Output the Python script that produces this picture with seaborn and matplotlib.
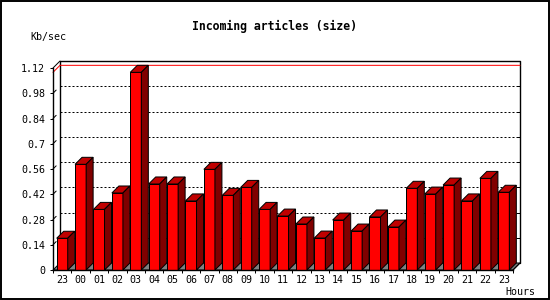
import numpy as np
import pandas as pd
import matplotlib
matplotlib.use("Agg")
import matplotlib.pyplot as plt
from matplotlib.patches import Polygon, Rectangle
import seaborn as sns

# ---- data ----
hours = ["23", "00", "01", "02", "03", "04", "05", "06", "07", "08", "09", "10",
         "11", "12", "13", "14", "15", "16", "17", "18", "19", "20", "21", "22", "23"]
kbps = [0.176, 0.586, 0.336, 0.427, 1.096, 0.477, 0.477, 0.383, 0.558, 0.414,
        0.458, 0.336, 0.299, 0.255, 0.177, 0.277, 0.216, 0.294, 0.238, 0.453,
        0.421, 0.471, 0.383, 0.508, 0.431]
yticks = [0, 0.14, 0.28, 0.42, 0.56, 0.7, 0.84, 0.98, 1.12]
ytick_labels = ["0", "0.14", "0.28", "0.42", "0.56", "0.7", "0.84", "0.98", "1.12"]
title = "Incoming articles (size)"
ylabel = "Kb/sec"
xlabel = "Hours"

sns.set_style("white")
plt.rcParams["font.family"] = ["DejaVu Sans Mono", "DejaVu Sans"]
plt.rcParams["lines.scale_dashes"] = False

W, H = 550, 300
fig = plt.figure(figsize=(W / 100, H / 100), dpi=100)
fig.patch.set_facecolor("white")

# axes geometry (pixels)
L, R, B, T = 53, 513, 270, 68
ax = fig.add_axes([L / W, (H - B) / H, (R - L) / W, (B - T) / H])
ax.set_facecolor("none")

n = len(kbps)
ymax = yticks[-1]
px_x = (R - L) / n
px_y = (B - T) / ymax
dx = 7 / px_x
dy = 7 / px_y
LW = 0.72

df = pd.DataFrame({"slot": np.arange(n), "kbps": kbps})
sns.barplot(data=df, x="slot", y="kbps", color="#FF0000", saturation=1,
            width=0.6, edgecolor="black", linewidth=LW, ax=ax)

ax.set_xlim(-0.5, n - 0.5)
ax.set_ylim(0, ymax)

x0w, x1w = -0.5 + dx, n - 0.5 + dx  # back wall x range

# floor
floor = Polygon([(-0.5, 0), (n - 0.5, 0), (n - 0.5 + dx, dy), (-0.5 + dx, dy)],
                closed=True, facecolor="#808080", edgecolor="black", lw=LW,
                zorder=2, clip_on=False)
ax.add_patch(floor)

# back wall gridlines
for v in yticks[1:-1]:
    ax.plot([x0w, x1w], [v + dy, v + dy], color="black", lw=LW,
            ls=(0, (1.44, 1.44)), zorder=1, clip_on=False)
    ax.plot([x1w - 3 / px_x, x1w], [v + dy, v + dy], color="black", lw=LW,
            zorder=1, clip_on=False)
    ax.plot([-0.5, -0.5 + dx * 0.45], [v, v + dy * 0.45], color="black", lw=LW,
            zorder=1, clip_on=False)

# max line (red)
mx = max(kbps)
ax.plot([-0.5, x0w, x1w], [mx, mx + dy, mx + dy], color="#FF0000", lw=LW,
        zorder=1.5, clip_on=False)

# back wall border
ax.plot([x0w, x0w, x1w, x1w], [dy, ymax + dy, ymax + dy, dy], color="black",
        lw=LW * 1.4, zorder=1, clip_on=False)
ax.plot([-0.5, x0w], [ymax, ymax + dy], color="black", lw=LW, zorder=1, clip_on=False)
ax.plot([n - 0.5, x1w], [0, dy], color="black", lw=LW, zorder=2.1, clip_on=False)

# 3D faces
for i, p in enumerate(ax.patches[:n]):
    z = 3 + i * 0.01
    p.set_zorder(z)
    x0, w, h = p.get_x(), p.get_width(), p.get_height()
    top = Polygon([(x0, h), (x0 + w, h), (x0 + w + dx, h + dy), (x0 + dx, h + dy)],
                  closed=True, facecolor="#C00000", edgecolor="black", lw=LW,
                  zorder=z, clip_on=False)
    side = Polygon([(x0 + w, 0), (x0 + w + dx, dy), (x0 + w + dx, h + dy), (x0 + w, h)],
                   closed=True, facecolor="#800000", edgecolor="black", lw=LW,
                   zorder=z, clip_on=False)
    ax.add_patch(top)
    ax.add_patch(side)

# spines
for s in ["top", "right"]:
    ax.spines[s].set_visible(False)
for s in ["left", "bottom"]:
    ax.spines[s].set_color("black")
    ax.spines[s].set_linewidth(LW * 1.4)
    ax.spines[s].set_zorder(5)

# ticks
ax.set_yticks(yticks, labels=ytick_labels)
ax.set_xticks(np.arange(-0.5, n, 1.0), labels=[""] * (n + 1))
ax.set_xticks(np.arange(n), labels=hours, minor=True)
ax.tick_params(axis="y", which="major", direction="out", length=2.2, width=LW,
               pad=3.6, labelsize=7.2, colors="black", left=True)
ax.tick_params(axis="x", which="major", direction="out", length=2.2, width=LW,
               colors="black", bottom=True)
ax.tick_params(axis="x", which="minor", length=0, pad=3.6, labelsize=7.2,
               colors="black")
ax.set_xlabel("")
ax.set_ylabel("")

# texts
fig.text(274 / W, 1 - 26 / H, title, ha="center", va="center", fontsize=8.3,
         fontweight="bold", color="black")
fig.text(30 / W, 1 - 37 / H, ylabel, ha="left", va="center", fontsize=7.2, color="black")
fig.text(505 / W, 1 - 292 / H, xlabel, ha="left", va="center", fontsize=7.2, color="black")

# outer border
fig.patches.append(Rectangle((0.5 / W, 1.5 / H), 548 / W, 297.5 / H,
                             transform=fig.transFigure, fill=False,
                             edgecolor="black", lw=1.4))

fig.savefig("out.png", dpi=100, facecolor="white")
